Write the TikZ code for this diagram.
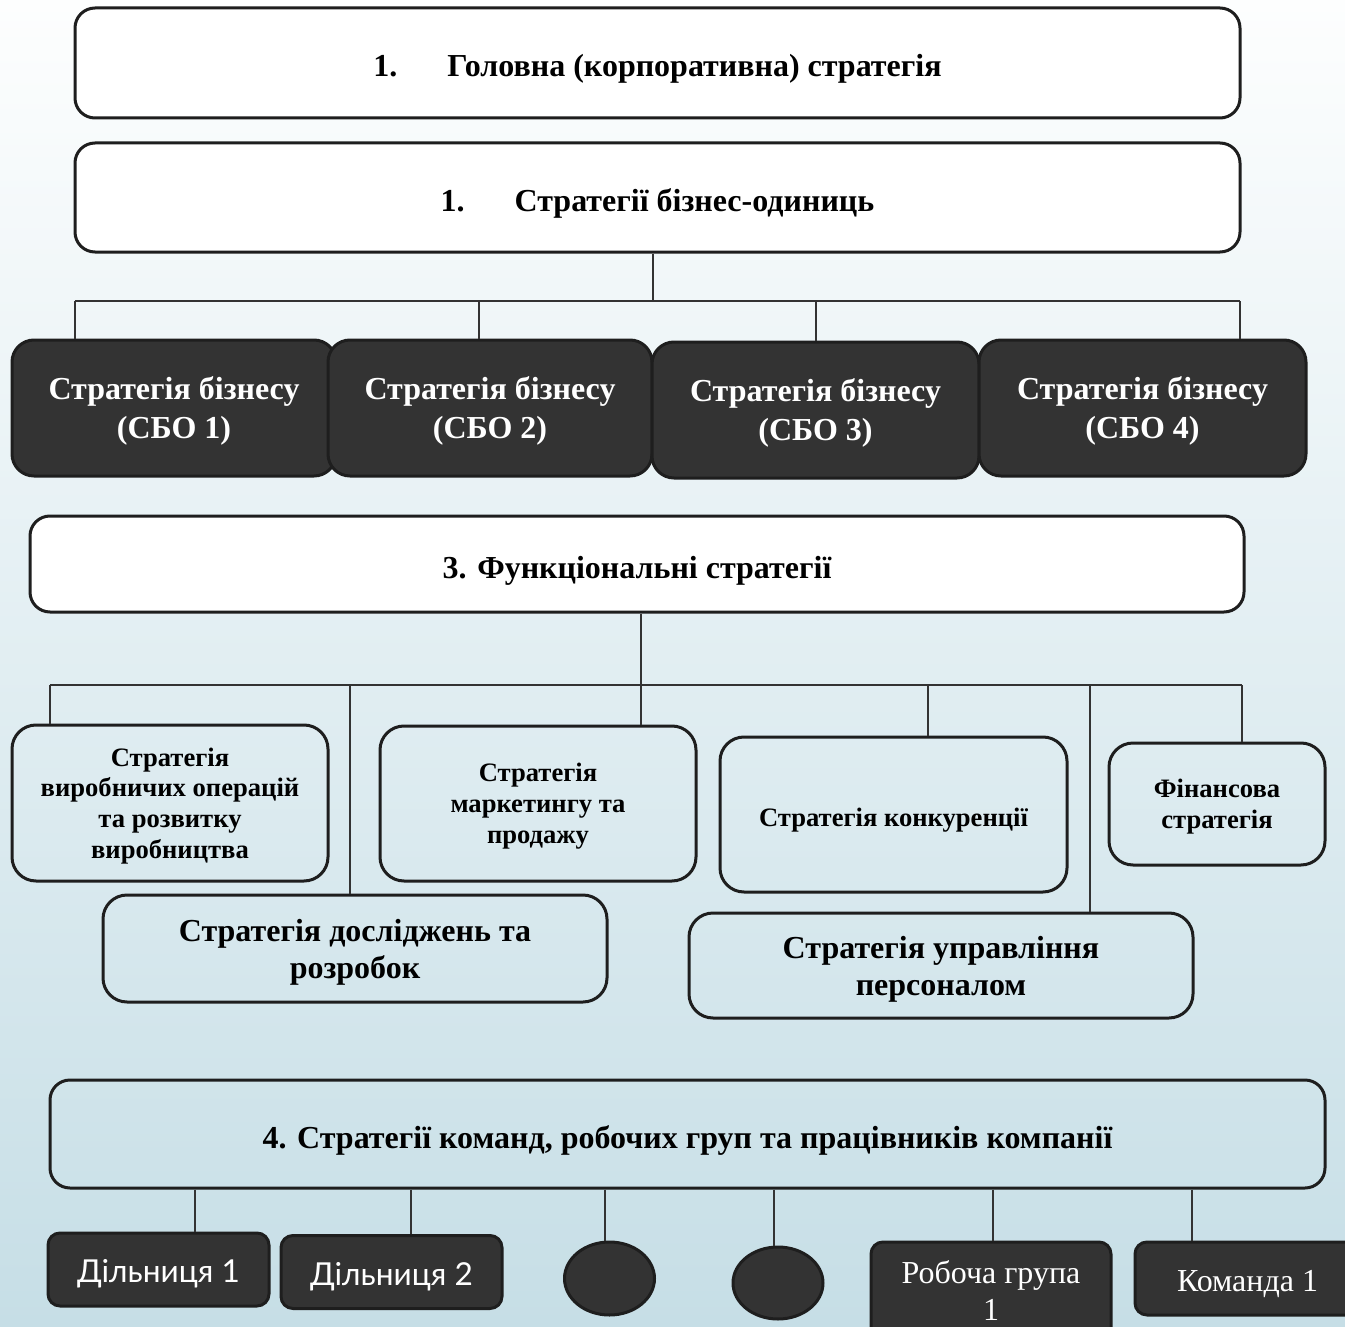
\documentclass[tikz,border=0pt]{standalone}
\usepackage{fontspec}
\setmainfont{Liberation Serif}
\newfontfamily\gothfont{Lato}
\usetikzlibrary{shapes.geometric}

\definecolor{darkbox}{RGB}{51,51,51}
\definecolor{edge}{RGB}{30,30,30}
\definecolor{bgtop}{RGB}{253,254,254}
\definecolor{bgmid}{RGB}{232,241,244}
\definecolor{bgbot}{RGB}{198,222,230}

\begin{document}
\begin{tikzpicture}[x=0.5pt, y=-0.5pt,
  level/.style={draw=edge, line width=1.5pt, rounded corners=10pt, fill=white, font=\bfseries\fontsize{16}{19}\selectfont, text height=14pt, text depth=0pt, minimum width=582.5pt, minimum height=55pt},
  unit/.style={draw=edge, line width=1.5pt, rounded corners=11pt, fill=darkbox, text=white, font=\bfseries\fontsize{16}{19.5}\selectfont, align=center, text depth=0pt, minimum width=162pt, minimum height=68pt},
  func/.style={draw=edge, line width=1.5pt, rounded corners=12pt, font=\bfseries\fontsize{13.3}{15.4}\selectfont, align=center, text depth=0pt},
  funcwide/.style={func, font=\bfseries\fontsize{16}{18.5}\selectfont, minimum width=252pt, minimum height=53.5pt},
  team/.style={draw=edge, line width=1.5pt, rounded corners=6pt, fill=darkbox, text=white, minimum height=36.5pt},
  blob/.style={ellipse, draw=edge, line width=1.5pt, fill=darkbox, minimum width=45pt, minimum height=36.5pt},
  link/.style={draw=black!80, line width=1pt}]

% background
\shade[top color=bgtop, middle color=bgmid, bottom color=bgbot] (0,0) rectangle (1345,1327);
\useasboundingbox (0,0) rectangle (1345,1327);
\clip (0,0) rectangle (1345,1327);

% levels 1 and 2
\node[level] (corp) at (657.5,63) {1.\hspace{25pt}Головна (корпоративна) стратегія};
\node[level, minimum height=54.5pt] (bizunits) at (657.5,197.5) {1.\hspace{25pt}Стратегії бізнес-одиниць};

% business units
\node[unit] (sbo1) at (174,408) {Стратегія бізнесу\\(СБО 1)};
\node[unit] (sbo2) at (490,408) {Стратегія бізнесу\\(СБО 2)};
\node[unit, minimum width=163.5pt] (sbo3) at (815.5,410) {Стратегія бізнесу\\(СБО 3)};
\node[unit, minimum width=163.5pt] (sbo4) at (1142.5,408) {Стратегія бізнесу\\(СБО 4)};

\foreach \n/\x in {sbo1/75,sbo2/479,sbo3/816,sbo4/1240} {
  \coordinate (tap-\n) at (\x,301);
  \draw[link] (tap-\n) -- (tap-\n |- \n.north);
}
\coordinate (hub1) at (653,301);
\draw[link] (hub1 |- bizunits.south) -- (hub1);
\draw[link] (tap-sbo1) -- (tap-sbo4);

% level 3
\node[level, minimum width=607pt, minimum height=48pt] (func) at (637,564) {3. Функціональні стратегії};

\node[func, minimum width=158pt, minimum height=78pt] (prod) at (170,803) {Стратегія\\виробничих операцій\\та розвитку\\виробництва};
\node[func, minimum width=158pt, minimum height=77.5pt] (mark) at (538,803.5) {Стратегія\\маркетингу та\\продажу};
\node[func, text height=11.5pt, minimum width=173.5pt, minimum height=77.5pt] (comp) at (893.5,814.5) {Стратегія конкуренції};
\node[func, minimum width=108pt, minimum height=61pt] (fin) at (1217,804) {Фінансова\\стратегія};
\node[funcwide] (rnd) at (355,948.5) {Стратегія досліджень та\\розробок};
\node[funcwide, minimum height=52.5pt] (hr) at (941,965.5) {Стратегія управління\\персоналом};

\foreach \n/\x in {prod/50,rnd/350,mark/641,comp/928,hr/1090,fin/1242} {
  \coordinate (tap-\n) at (\x,685);
  \draw[link] (tap-\n) -- (tap-\n |- \n.north);
}
\coordinate (hub2) at (641,685);
\draw[link] (hub2 |- func.south) -- (hub2);
\draw[link] (tap-prod) -- (tap-fin);

% level 4
\node[level, fill=none, minimum width=637.5pt, minimum height=54pt] (teams) at (687.5,1134) {4. Стратегії команд, робочих груп та працівників компанії};

\node[team, text height=13pt, text depth=0pt, minimum width=110.5pt, font=\gothfont\fontsize{15.8}{18}\selectfont] (sec1) at (158.5,1269.5) {Дільниця 1};
\node[team, text height=13pt, text depth=0pt, minimum width=110.5pt, font=\gothfont\fontsize{15.8}{18}\selectfont] (sec2) at (391.5,1272) {Дільниця 2};
\node[blob] (dot1) at (609.5,1278.5) {};
\node[blob, minimum height=36pt] (dot2) at (778,1283) {};
\node[team, minimum width=120pt, minimum height=49pt, align=center, font=\fontsize{16}{18.5}\selectfont] (group) at (991,1291) {Робоча група\\1};
\node[team, text height=13pt, text depth=0pt, minimum width=112.5pt, font=\fontsize{16}{18}\selectfont] (team1) at (1247.5,1278.5) {Команда 1};

\foreach \n/\x in {sec1/195,sec2/411,dot1/605,dot2/774,group/993,team1/1192} {
  \coordinate (tap-\n) at (\x,1188);
  \draw[link] (tap-\n |- teams.south) -- (tap-\n |- \n.north);
}
\end{tikzpicture}
\end{document}
